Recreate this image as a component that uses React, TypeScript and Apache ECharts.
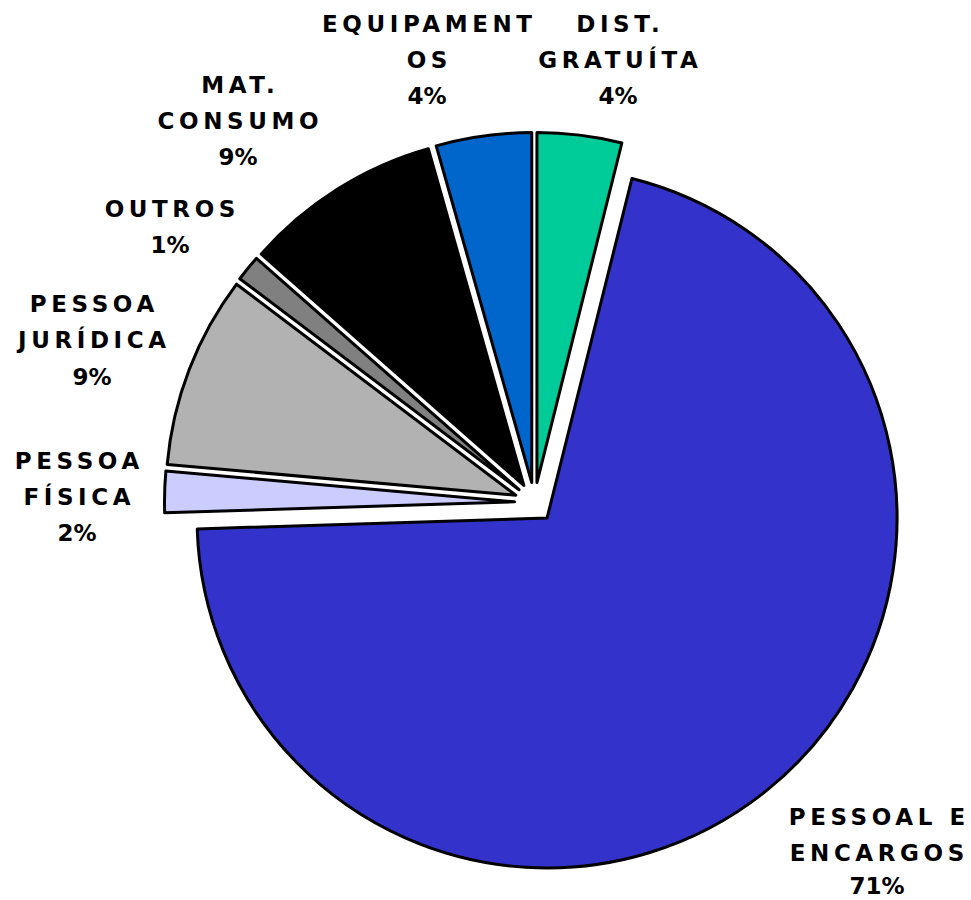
import React, { useEffect, useRef } from "react";
import * as echarts from "echarts";

const categories = [
  "DIST. GRATUÍTA",
  "PESSOAL E ENCARGOS",
  "PESSOA FÍSICA",
  "PESSOA JURÍDICA",
  "OUTROS",
  "MAT. CONSUMO",
  "EQUIPAMENTOS",
];
const labelLines = [
  ["DIST.", "GRATUÍTA"],
  ["PESSOAL E", "ENCARGOS"],
  ["PESSOA", "FÍSICA"],
  ["PESSOA", "JURÍDICA"],
  ["OUTROS"],
  ["MAT.", "CONSUMO"],
  ["EQUIPAMENT", "OS"],
];
const values = [3.9, 70.6, 1.9, 8.9, 1.2, 9.1, 4.4];
const colors = ["#00CC99", "#3333CC", "#CCCCFF", "#B2B2B2", "#808080", "#000000", "#0066CC"];
// label layout: center x, first-line center y
const labelPos: [number, number][] = [
  [618, 23.5],
  [877, 817],
  [77, 460.5],
  [92, 304],
  [170, 208.5],
  [238, 84.5],
  [427, 23.5],
];
const LINE = 36.3;
const FONT_SIZE = 23;
const LS = 4.6;

export default function App() {
  const ref = useRef<HTMLDivElement>(null);
  useEffect(() => {
    if (!ref.current) return;
    const chart = echarts.init(ref.current, undefined, { renderer: "svg" });
    const itemStyle = { borderColor: "#000", borderWidth: 3 };
    const total = values.reduce((a, b) => a + b, 0);
    const texts: any[] = [];
    labelLines.forEach((lines, i) => {
      const [cx, y0] = labelPos[i];
      lines.forEach((t, k) => {
        texts.push({
          type: "text",
          x: cx + LS / 2,
          y: y0 + LINE * k,
          silent: true,
          style: {
            text: t,
            fontFamily: "DejaVu Sans, sans-serif",
            fontWeight: "bold",
            fontSize: FONT_SIZE,
            fill: "#000",
            textAlign: "center",
            textVerticalAlign: "middle",
          },
        });
      });
      texts.push({
        type: "text",
        x: cx,
        y: Math.min(y0 + LINE * lines.length, 886),
        silent: true,
        style: {
          text: `${Math.round((values[i] / total) * 100)}%`,
          fontFamily: "DejaVu Sans",
          fontWeight: "bold",
          fontSize: FONT_SIZE,
          fill: "#000",
          textAlign: "center",
          textVerticalAlign: "middle",
        },
      });
    });
    chart.setOption({
      animation: false,
      backgroundColor: "#ffffff",
      graphic: { elements: texts },
      series: [
        {
          type: "pie",
          center: [534.5, 502.4],
          radius: 350,
          startAngle: 90,
          clockwise: true,
          selectedMode: "multiple",
          selectedOffset: 20,
          emphasis: { disabled: true },
          select: { itemStyle },
          label: { show: false },
          labelLine: { show: false },
          data: categories.map((name, i) => ({
            name,
            value: values[i],
            selected: true,
            itemStyle: { color: colors[i], ...itemStyle },
          })),
        },
      ],
    });
    return () => chart.dispose();
  }, []);
  return (
    <>
      <style>{`.chartbox text[style*="sans-serif"]{letter-spacing:${LS}px}`}</style>
      <div
        ref={ref}
        className="chartbox"
        style={{ position: "absolute", left: 0, top: 0, width: 971, height: 900 }}
      />
    </>
  );
}
